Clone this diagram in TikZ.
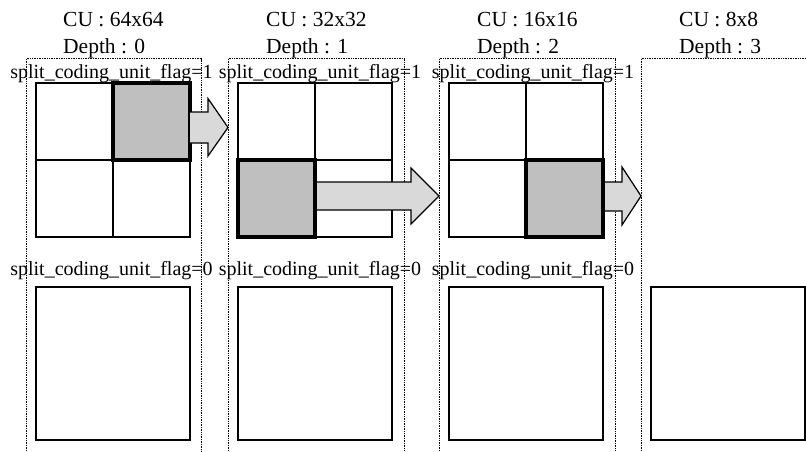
\documentclass[tikz,border=0pt]{standalone}
\usepackage{fontspec}
\setmainfont{Liberation Serif}
\begin{document}
\begin{tikzpicture}[x=1pt,y=-1pt,
  frame/.style={draw=black,line width=1pt,dash pattern=on 1pt off 0.7pt},
  cell/.style={draw=black,line width=1.5pt,fill=white},
  hilite/.style={draw=black,line width=3.6pt,fill=black!25},
  bigarrow/.style={draw=black,line width=1.2pt,fill=black!15,line join=miter},
  lbl/.style={font=\fontsize{20}{22}\selectfont,inner sep=0pt,anchor=base},
  hdr/.style={font=\fontsize{21.5}{24}\selectfont,inner sep=0pt,anchor=base west}]
\useasboundingbox (0,0) rectangle (806,452);
\clip (0,0) rectangle (806,452);
\fill[white] (0,0) rectangle (806,452);
% column frames
\draw[frame] (26,451) |- (201,59) -- (201,451);
\draw[frame] (228,451) |- (404,59) -- (404,451);
\draw[frame] (439,451) |- (615,59) -- (615,451);
\draw[frame] (641,451) |- (812,59);
% headers
\node[hdr] (cu1) at (63,26.7) {CU : 64x64};
\node[hdr] (d1) at (63,53.3) {Depth : 0};
\node[hdr] (cu2) at (266,26.7) {CU : 32x32};
\node[hdr] (d2) at (266,53.3) {Depth : 1};
\node[hdr] (cu3) at (477,26.7) {CU : 16x16};
\node[hdr] (d3) at (477,53.3) {Depth : 2};
\node[hdr] (cu4) at (679,26.7) {CU : 8x8};
\node[hdr] (d4) at (679,53.3) {Depth : 3};
% column 1 quad
\draw[cell] (36,83) rectangle (190,237);
\draw[cell] (113,83) -- (113,237) (36,160) -- (190,160);
\draw[hilite] (113,83) rectangle (190,160);
% column 2 quad
\draw[cell] (238,83) rectangle (392,237);
\draw[cell] (315,83) -- (315,237) (238,160) -- (392,160);
% column 3 quad
\draw[cell] (449,83) rectangle (603,237);
\draw[cell] (526,83) -- (526,237) (449,160) -- (603,160);
% arrows
\draw[bigarrow] (190,112) -- (208,112) -- (208,98.5) -- (228,127.5) -- (208,156) -- (208,143) -- (190,143);
\draw[bigarrow] (315,182) -- (411,182) -- (411,168) -- (439,196) -- (411,224) -- (411,210) -- (315,210);
\draw[bigarrow] (603,182) -- (622,182) -- (622,167) -- (641,196) -- (622,225) -- (622,211) -- (603,211);
% highlights (on top of arrow bases)
\draw[hilite] (238,160) rectangle (315,237);
\draw[hilite] (526,160) rectangle (603,237);
% flag labels
\node[lbl] (f11) at (111.5,78) {split\_coding\_unit\_flag=1};
\node[lbl] (f21) at (320,78) {split\_coding\_unit\_flag=1};
\node[lbl] (f31) at (533,78) {split\_coding\_unit\_flag=1};
\node[lbl] (f10) at (111.5,275) {split\_coding\_unit\_flag=0};
\node[lbl] (f20) at (320,275) {split\_coding\_unit\_flag=0};
\node[lbl] (f30) at (533,275) {split\_coding\_unit\_flag=0};
% bottom squares
\draw[cell] (36,287) rectangle (190,440);
\draw[cell] (238,287) rectangle (392,440);
\draw[cell] (449,287) rectangle (603,440);
\draw[cell] (651,287) rectangle (805,440);
\end{tikzpicture}
\end{document}
